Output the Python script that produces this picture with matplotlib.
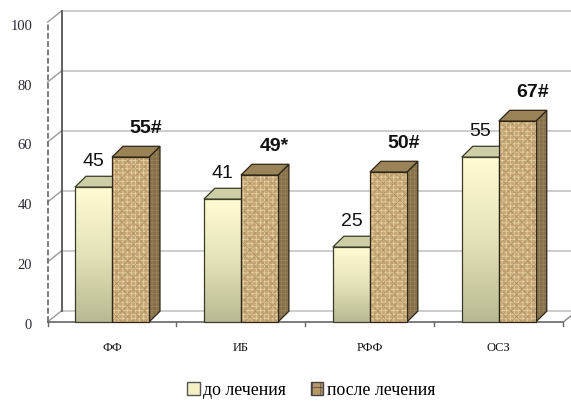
import numpy as np
import matplotlib
matplotlib.use('Agg')
import matplotlib.pyplot as plt
from matplotlib.patches import Polygon, Rectangle, Patch
from matplotlib.colors import LinearSegmentedColormap

# данные
categories = ['ФФ', 'ИБ', 'РФФ', 'ОСЗ']
before = [45, 41, 25, 55]
after = [55, 49, 50, 67]
after_marks = ['#', '*', '#', '#']
yticks = [0, 20, 40, 60, 80, 100]

plt.rcParams['hatch.linewidth'] = 0.5

fig = plt.figure(figsize=(5.71, 4.01), dpi=100)
ax = fig.add_axes([0.0788, 0.1596, 0.9212, 0.830])

w = 0.287          # ширина столбика
bdx, bdy = 0.085, 3.6    # глубина столбика
wdx, wdy = 0.11, 3.8     # глубина стенок
x_left, x_right = -0.5, 3.56

# задняя стенка и сетка
for v in yticks:
    ax.plot([x_left + wdx, x_right], [v + wdy, v + wdy], color='#c8c8c8', lw=1.3, zorder=1)
    ax.plot([x_left, x_left + wdx], [v, v + wdy], color='#9a9a9a', lw=1.0, zorder=1)
    ax.text(x_left - 0.12, v - 1.3, str(v), ha='right', va='center',
            family='Liberation Serif', fontsize=10.5, color='#2a2a3a')
ax.plot([x_left + wdx, x_left + wdx], [wdy, 100 + wdy], color='#555555', lw=1.3, zorder=1)
ax.plot([x_left, x_left], [0, 100], color='#666666', lw=1.2, ls=(0, (3.5, 1.5)), zorder=1)

# пол
ax.plot([x_left, 3.5], [0, 0], color='#666666', lw=1.2, zorder=2)
ax.plot([3.5, 3.5 + wdx], [0, wdy], color='#888888', lw=1.0, zorder=2)
for t in np.arange(-0.5, 3.6, 1.0):
    ax.plot([t, t], [0, -1.4], color='#666666', lw=1.0, zorder=2)

grad_cmap = LinearSegmentedColormap.from_list('bef', ['#b9ba94', '#e4e2b8', '#fffcd4'])
grad = np.linspace(0, 1, 100).reshape(-1, 1)

for i, (b, a) in enumerate(zip(before, after)):
    # столбик "до лечения"
    x0 = i - w
    ax.imshow(grad, extent=[x0, x0 + w, 0, b], origin='lower', aspect='auto',
              cmap=grad_cmap, zorder=3, interpolation='bilinear')
    ax.add_patch(Rectangle((x0, 0), w, b, fill=False, edgecolor='#3a3a2a', lw=0.9, zorder=4))
    ax.add_patch(Polygon([(x0, b), (x0 + w, b), (x0 + w + bdx, b + bdy), (x0 + bdx, b + bdy)],
                         facecolor='#cdcea6', edgecolor='#3a3a2a', lw=0.9, zorder=4))
    ax.text(x0 + w / 2, b + bdy + 2.2, str(b), ha='center', va='bottom',
            family='Liberation Sans', fontsize=14, color='#111111')

    # столбик "после лечения"
    x1 = i
    side = [(x1 + w, 0), (x1 + w + bdx, bdy), (x1 + w + bdx, a + bdy), (x1 + w, a)]
    ax.add_patch(Polygon(side, facecolor='#85704a', edgecolor='none', zorder=5))
    ax.add_patch(Polygon(side, fill=False, hatch='++++', edgecolor='#9a845c', lw=0, zorder=5))
    ax.add_patch(Polygon(side, fill=False, edgecolor='#2e2618', lw=0.9, zorder=5))
    ax.add_patch(Polygon([(x1, a), (x1 + w, a), (x1 + w + bdx, a + bdy), (x1 + bdx, a + bdy)],
                         facecolor='#9a8356', edgecolor='#2e2618', lw=0.9, zorder=6))
    ax.add_patch(Rectangle((x1, 0), w, a, facecolor='#c6a674', edgecolor='none', zorder=6))
    ax.add_patch(Rectangle((x1, 0), w, a, fill=False, hatch='++++', edgecolor='#e6d5aa',
                           lw=0, zorder=6))
    ax.add_patch(Rectangle((x1, 0), w, a, fill=False, hatch='xxx', edgecolor='#b0905e',
                           lw=0, zorder=6))
    ax.add_patch(Rectangle((x1, 0), w, a, fill=False, edgecolor='#2e2618', lw=0.9, zorder=7))
    ax.text(x1 + w / 2 + 0.115, a + bdy + 3.2, f'{a}{after_marks[i]}', ha='center', va='bottom',
            family='Liberation Sans', fontsize=14, fontweight='bold', color='#111111')

    ax.text(i, -8.8, categories[i], ha='center', va='center',
            family='Liberation Serif', fontsize=9, color='#111111', clip_on=False)

ax.set_xlim(-0.52, x_right)
ax.set_ylim(-5, 106)
ax.axis('off')

handles = [Patch(facecolor='#f2f0c4', edgecolor='#555555', label='до лечения'),
           Patch(facecolor='#b89868', edgecolor='#444444', hatch='++', label='после лечения')]
fig.legend(handles=handles, loc='center', bbox_to_anchor=(0.545, 0.027), ncol=2, frameon=False,
           prop={'family': 'Liberation Serif', 'size': 12.8}, handlelength=0.7, handleheight=0.7,
           handletextpad=0.2, columnspacing=1.4)

fig.savefig('out.png', dpi=100)
